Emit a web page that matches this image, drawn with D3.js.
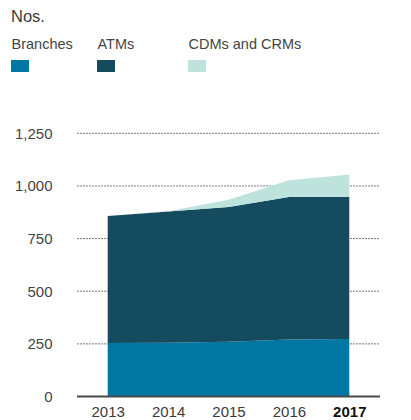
<!DOCTYPE html>
<html>
<head>
<meta charset="utf-8">
<script src="https://cdn.jsdelivr.net/npm/d3@7"></script>
<style>
  body { margin: 0; background: #fff; }
  svg text { font-family: "Liberation Sans", Arial, sans-serif; }
</style>
</head>
<body>
<svg id="chart" width="411" height="420"></svg>
<script>
const years = ['2013', '2014', '2015', '2016', '2017'];
const branches = [254, 255, 260, 271, 273];
const atms = [603, 624, 640, 676, 674];
const cdms = [0, 1, 34, 80, 107];
const yTicks = [0, 250, 500, 750, 1000, 1250];

const seriesNames = ['Branches', 'ATMs', 'CDMs and CRMs'];
const colors = ['#0077a3', '#154b5f', '#bde3dc'];

const svg = d3.select('#chart');

const x = d3.scalePoint()
  .domain(years)
  .range([107.7, 349.3]);

const y = d3.scaleLinear()
  .domain([0, 1250])
  .range([396.5, 133.3]);

// unit line
svg.append('text')
  .attr('x', 11)
  .attr('y', 21.5)
  .attr('font-size', '16.5px')
  .attr('fill', '#3a3a3a')
  .text('Nos.');

// legend
const legendX = [11, 97, 188];
seriesNames.forEach((name, i) => {
  svg.append('text')
    .attr('x', legendX[i] + 0.5)
    .attr('y', 48.5)
    .attr('font-size', '14.5px')
    .attr('fill', '#444')
    .text(name);
  svg.append('rect')
    .attr('x', legendX[i])
    .attr('y', 60)
    .attr('width', 18)
    .attr('height', 12)
    .attr('fill', colors[i]);
});

// grid lines
svg.append('g')
  .selectAll('line')
  .data(yTicks.filter(d => d > 0))
  .join('line')
  .attr('x1', 77)
  .attr('x2', 380)
  .attr('y1', d => y(d))
  .attr('y2', d => y(d))
  .attr('stroke', '#7a7a7a')
  .attr('stroke-width', 1)
  .attr('stroke-dasharray', '2,1');

// stacked areas
const rows = years.map((yr, i) => ({
  year: yr,
  Branches: branches[i],
  ATMs: atms[i],
  'CDMs and CRMs': cdms[i]
}));

const stack = d3.stack().keys(seriesNames);
const layers = stack(rows);

const area = d3.area()
  .x(d => x(d.data.year))
  .y0(d => y(d[0]))
  .y1(d => y(d[1]));

svg.append('g')
  .selectAll('path')
  .data(layers)
  .join('path')
  .attr('d', area)
  .attr('fill', (d, i) => colors[i]);

// y axis labels
const yAxis = d3.axisLeft(y)
  .tickValues(yTicks)
  .tickSize(0)
  .tickPadding(0)
  .tickFormat(d3.format(','));

svg.append('g')
  .attr('transform', 'translate(52.5,0)')
  .call(yAxis)
  .call(g => g.select('.domain').remove())
  .call(g => g.selectAll('text')
    .attr('font-size', '15px')
    .attr('fill', '#444')
    .attr('font-family', '"Liberation Sans", Arial, sans-serif'));

// x axis baseline
svg.append('line')
  .attr('x1', 77)
  .attr('x2', 380)
  .attr('y1', y(0))
  .attr('y2', y(0))
  .attr('stroke', '#4a4a4a')
  .attr('stroke-width', 2);

// x axis labels
const xAxis = d3.axisBottom(x)
  .tickSize(0)
  .tickPadding(0);

svg.append('g')
  .attr('transform', 'translate(0,406.5)')
  .call(xAxis)
  .call(g => g.select('.domain').remove())
  .call(g => g.selectAll('text')
    .attr('font-size', '15px')
    .attr('font-family', '"Liberation Sans", Arial, sans-serif')
    .attr('font-weight', d => d === '2017' ? 'bold' : 'normal')
    .attr('fill', d => d === '2017' ? '#111' : '#3a3a3a'));
</script>
</body>
</html>
